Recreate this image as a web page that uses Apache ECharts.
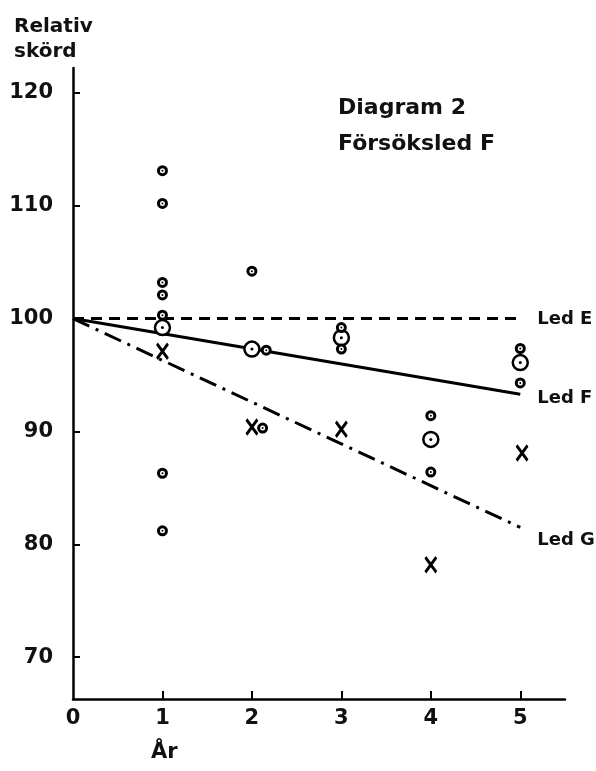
<!DOCTYPE html>
<html>
<head>
<meta charset="utf-8">
<script src="https://cdn.jsdelivr.net/npm/echarts@6/dist/echarts.min.js"></script>
<style>html,body{margin:0;padding:0;background:#fff;}#c{width:596px;height:771px;}</style>
</head>
<body>
<div id="c"></div>
<script>
// Individual trial results (small circles): [year, relative yield]
const trialPoints = [
  [1, 113.1], [1, 110.2], [1, 103.2], [1, 102.1], [1, 100.3], [1, 86.3], [1, 81.2],
  [2, 104.2], [2.16, 97.2], [2.12, 90.3],
  [3, 99.2], [3, 97.3],
  [4, 91.4], [4, 86.4],
  [5, 97.35], [5, 94.3]
];
// Means (large circles)
const meanPoints = [[1, 99.2], [2, 97.3], [3, 98.3], [4, 89.3], [5, 96.1]];
// X markers
const xPoints = [[1, 97.1], [2, 90.4], [3, 90.2], [4, 78.2], [5.02, 88.1]];
// Trend lines
const ledE = [[0, 100], [5, 100]];
const ledF = [[0, 100], [5, 93.3]];
const ledG = [[0, 100], [5, 81.5]];
const xTicks = [1, 2, 3, 4, 5];
const xLabels = [0, 1, 2, 3, 4, 5];
const yTicks = [70, 80, 90, 100, 110, 120];

const FONT = 'DejaVu Sans';
const chart = echarts.init(document.getElementById('c'), null, {renderer: 'canvas'});
const lineBase = {type: 'line', showSymbol: false, symbol: 'none', silent: true, z: 2, animation: false};
const endLbl = (txt, dy) => ({show: true, formatter: txt, distance: 17, offset: [0, dy], fontFamily: FONT, fontWeight: 'bold', fontSize: 18, color: '#111'});

chart.setOption({
  animation: false,
  backgroundColor: '#fff',
  grid: {left: 73, right: 31, top: 68, bottom: 72, containLabel: false},
  xAxis: {
    type: 'value', min: 0, max: 5.5,
    axisLine: {show: true, lineStyle: {color: '#000', width: 2.5}},
    axisTick: {show: true, inside: true, length: 8, lineStyle: {color: '#000', width: 2}, customValues: xTicks},
    axisLabel: {show: true, customValues: xLabels, margin: 9, fontFamily: FONT, fontWeight: 'bold', fontSize: 21, color: '#111'},
    splitLine: {show: false}
  },
  yAxis: {
    type: 'value', min: 66.3, max: 122.2,
    axisLine: {show: true, lineStyle: {color: '#000', width: 2.5}},
    axisTick: {show: true, inside: true, length: 7, lineStyle: {color: '#000', width: 2}, customValues: yTicks},
    axisLabel: {show: true, customValues: yTicks, margin: 20, fontFamily: FONT, fontWeight: 'bold', fontSize: 21, color: '#111'},
    splitLine: {show: false}
  },
  graphic: [
    {type: 'text', left: 14, top: 14, style: {text: 'Relativ\nskörd', font: 'bold 20px "DejaVu Sans"', lineHeight: 25, fill: '#111'}},
    {type: 'text', left: 338, top: 90, style: {text: 'Diagram 2\nFörsöksled F', font: 'bold 22px "DejaVu Sans"', lineHeight: 36, fill: '#111'}},
    {type: 'text', left: 151, top: 742, style: {text: 'År', font: 'bold 21px "DejaVu Sans"', fill: '#111'}}
  ],
  series: [
    Object.assign({}, lineBase, {name: 'Led E', data: ledE, lineStyle: {color: '#000', width: 3, type: [11, 7]}, endLabel: endLbl('Led E', 1)}),
    Object.assign({}, lineBase, {name: 'Led F', data: ledF, lineStyle: {color: '#000', width: 3, type: 'solid'}, endLabel: endLbl('Led F', 4)}),
    Object.assign({}, lineBase, {name: 'Led G', data: ledG, lineStyle: {color: '#000', width: 3, type: [18, 7, 3, 7]}, endLabel: endLbl('Led G', 13)}),
    {type: 'scatter', data: meanPoints, symbol: 'circle', symbolSize: 15, z: 3,
      itemStyle: {color: '#fff', borderColor: '#000', borderWidth: 2.5, opacity: 1}, silent: true},
    {type: 'scatter', data: meanPoints, symbol: 'circle', symbolSize: 3, z: 4,
      itemStyle: {color: '#000', opacity: 1}, silent: true},
    {type: 'scatter', data: trialPoints, symbol: 'circle', symbolSize: 8, z: 5,
      itemStyle: {color: '#fff', borderColor: '#000', borderWidth: 3, opacity: 1}, silent: true},
    {type: 'scatter', data: trialPoints, symbol: 'circle', symbolSize: 2, z: 6,
      itemStyle: {color: '#000', opacity: 1}, silent: true},
    {type: 'scatter', data: xPoints, symbol: 'path://M0,0L11,15M11,0L0,15', symbolSize: [11, 15], z: 5,
      itemStyle: {color: 'none', borderColor: '#000', borderWidth: 3, opacity: 1}, silent: true}
  ]
});
</script>
</body>
</html>
